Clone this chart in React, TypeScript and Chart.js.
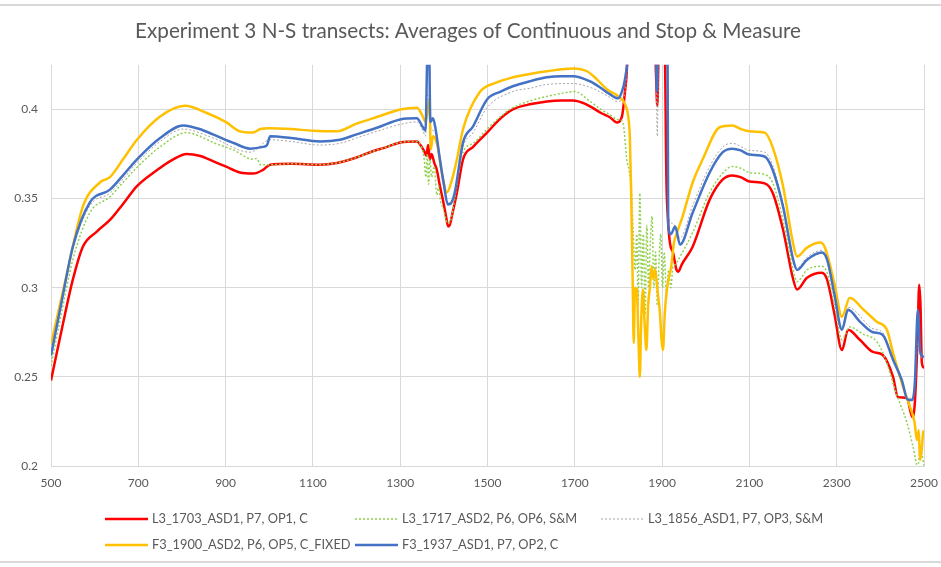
import React, { useEffect, useRef } from "react";
import { Chart, registerables } from "chart.js";

Chart.register(...registerables);

const TITLE = "Experiment 3 N-S transects: Averages of Continuous and Stop & Measure";

const X_MIN = 500;
const X_MAX = 2500;
const X_STEP = 200;
const Y_MIN = 0.2;
const Y_MAX = 0.425;
const Y_STEP = 0.05;

const LABELS = [
  "L3_1703_ASD1, P7, OP1, C",
  "L3_1717_ASD2, P6, OP6, S&M",
  "L3_1856_ASD1, P7, OP3, S&M",
  "F3_1900_ASD2, P6, OP5, C_FIXED",
  "F3_1937_ASD1, P7, OP2, C",
];

// L3_1703 (red)
const redWl = [
  500, 525, 550, 573, 605, 635, 665, 697, 743, 780,
  811, 840, 871, 900, 933, 963, 985, 1002, 1050, 1116,
  1155, 1200, 1231, 1270, 1300, 1338, 1350, 1356, 1360, 1364,
  1368, 1372, 1378, 1384, 1391, 1398, 1405, 1410, 1414, 1420,
  1430, 1444, 1467, 1499, 1530, 1558, 1600, 1636, 1670, 1696,
  1720, 1735, 1760, 1781, 1796, 1808, 1815, 1819, 1822, 1830,
  1880, 1886, 1889, 1892, 1905, 1910, 1913, 1918, 1925, 1933,
  1937, 1945, 1970, 2009, 2039, 2061, 2080, 2100, 2135, 2153,
  2177, 2200, 2209, 2232, 2266, 2278, 2295, 2312, 2326, 2353,
  2383, 2405, 2429, 2440, 2461, 2473, 2479, 2485, 2489, 2492,
  2495, 2500,
];
const redVals = [
  0.248, 0.277, 0.3045, 0.323, 0.3315, 0.338, 0.347, 0.357, 0.366, 0.372,
  0.375, 0.374, 0.371, 0.368, 0.3646, 0.364, 0.366, 0.369, 0.3695, 0.369,
  0.37, 0.373, 0.376, 0.379, 0.3815, 0.382, 0.3787, 0.376, 0.374, 0.38,
  0.372, 0.375, 0.37, 0.366, 0.357, 0.349, 0.34, 0.3343, 0.3354, 0.342,
  0.3534, 0.372, 0.379, 0.387, 0.395, 0.4, 0.403, 0.4045, 0.405, 0.405,
  0.4035, 0.4017, 0.398, 0.3955, 0.3927, 0.396, 0.41, 0.4208, 0.44, 0.46,
  0.46, 0.42, 0.402, 0.43, 0.45, 0.359, 0.34, 0.325, 0.3197, 0.31,
  0.309, 0.313, 0.323, 0.3494, 0.3607, 0.363, 0.362, 0.3596, 0.3585, 0.3534,
  0.3326, 0.305, 0.299, 0.3056, 0.3084, 0.3045, 0.285, 0.265, 0.2764, 0.2708,
  0.264, 0.2624, 0.25, 0.2388, 0.238, 0.2275, 0.2354, 0.27, 0.3017, 0.29,
  0.258, 0.255,
];

// L3_1717 (green dotted)
const greenWl = [
  500, 525, 550, 589, 635, 665, 697, 750, 811, 840,
  871, 920, 963, 971, 980, 1002, 1050, 1116, 1155, 1200,
  1231, 1270, 1300, 1338, 1350, 1355, 1359, 1362, 1365, 1368,
  1372, 1378, 1384, 1388, 1392, 1398, 1405, 1410, 1416, 1425,
  1444, 1467, 1499, 1530, 1558, 1600, 1636, 1670, 1700, 1735,
  1760, 1781, 1796, 1805, 1812, 1819, 1825, 1830, 1834, 1838,
  1842, 1845, 1849, 1853, 1857, 1861, 1865, 1869, 1873, 1877,
  1881, 1885, 1889, 1893, 1897, 1901, 1905, 1910, 1915, 1920,
  1925, 1930, 1937, 1970, 2009, 2047, 2061, 2080, 2100, 2135,
  2153, 2177, 2200, 2209, 2232, 2266, 2278, 2295, 2312, 2330,
  2360, 2392, 2412, 2436, 2461, 2475, 2486, 2491, 2495, 2500,
];
const greenVals = [
  0.256, 0.287, 0.3157, 0.342, 0.351, 0.359, 0.3675, 0.379, 0.387, 0.385,
  0.3815, 0.377, 0.372, 0.3725, 0.369, 0.369, 0.3695, 0.369, 0.37, 0.373,
  0.376, 0.379, 0.3815, 0.382, 0.378, 0.372, 0.362, 0.375, 0.358, 0.372,
  0.362, 0.368, 0.352, 0.357, 0.349, 0.345, 0.338, 0.336, 0.338, 0.35,
  0.376, 0.381, 0.389, 0.396, 0.401, 0.405, 0.4073, 0.409, 0.41, 0.4045,
  0.4, 0.397, 0.3944, 0.394, 0.3905, 0.372, 0.365, 0.353, 0.33, 0.31,
  0.33, 0.29, 0.353, 0.3, 0.33, 0.285, 0.335, 0.3, 0.325, 0.34,
  0.3, 0.32, 0.29, 0.315, 0.33, 0.3, 0.32, 0.295, 0.31, 0.3,
  0.312, 0.313, 0.3157, 0.331, 0.3534, 0.3663, 0.368, 0.367, 0.3646, 0.3635,
  0.359, 0.338, 0.31, 0.3034, 0.31, 0.312, 0.3084, 0.29, 0.2708, 0.278,
  0.274, 0.2697, 0.2596, 0.241, 0.2242, 0.2107, 0.1994, 0.21, 0.207, 0.2,
];

// L3_1856 (grey dotted)
const greyWl = [
  500, 550, 589, 635, 697, 750, 803, 871, 956, 1002,
  1050, 1116, 1162, 1200, 1250, 1300, 1338, 1352, 1358, 1362,
  1366, 1370, 1380, 1391, 1400, 1409, 1415, 1425, 1444, 1467,
  1499, 1558, 1600, 1636, 1696, 1735, 1781, 1796, 1808, 1815,
  1822, 1830, 1884, 1889, 1892, 1912, 1915, 1925, 1935, 1941,
  1970, 2009, 2039, 2061, 2100, 2135, 2153, 2177, 2209, 2232,
  2266, 2278, 2312, 2326, 2383, 2405, 2429, 2449, 2463, 2473,
  2479, 2486, 2491, 2500,
];
const greyVals = [
  0.26, 0.321, 0.346, 0.353, 0.37, 0.382, 0.389, 0.384, 0.376, 0.383,
  0.382, 0.38, 0.381, 0.384, 0.388, 0.3916, 0.393, 0.388, 0.385, 0.41,
  0.4, 0.39, 0.387, 0.37, 0.357, 0.3475, 0.348, 0.353, 0.379, 0.387,
  0.401, 0.41, 0.412, 0.414, 0.4145, 0.4124, 0.4067, 0.4045, 0.405, 0.41,
  0.43, 0.46, 0.46, 0.385, 0.43, 0.46, 0.34, 0.336, 0.33, 0.328,
  0.346, 0.368, 0.379, 0.381, 0.377, 0.376, 0.369, 0.347, 0.311, 0.317,
  0.321, 0.317, 0.278, 0.289, 0.277, 0.275, 0.26, 0.248, 0.238, 0.238,
  0.245, 0.27, 0.262, 0.26,
];

// F3_1900 (yellow)
const yellowWl = [
  500, 537, 573, 612, 635, 665, 697, 750, 807, 857,
  900, 933, 963, 979, 1000, 1050, 1100, 1155, 1200, 1250,
  1300, 1338, 1350, 1358, 1363, 1367, 1370, 1375, 1385, 1395,
  1407, 1418, 1430, 1444, 1482, 1520, 1558, 1600, 1636, 1696,
  1728, 1750, 1774, 1803, 1815, 1823, 1826, 1829, 1831, 1833,
  1835, 1838, 1842, 1846, 1849, 1852, 1856, 1860, 1864, 1868,
  1872, 1876, 1880, 1884, 1887, 1891, 1895, 1899, 1902, 1906,
  1910, 1915, 1921, 1927, 1933, 1947, 1970, 1993, 2032, 2061,
  2080, 2100, 2135, 2153, 2177, 2200, 2209, 2232, 2262, 2273,
  2295, 2312, 2330, 2360, 2392, 2415, 2429, 2452, 2468, 2478,
  2484, 2488, 2491, 2495, 2498, 2500,
];
const yellowVals = [
  0.268, 0.3085, 0.3455, 0.359, 0.362, 0.372, 0.383, 0.396, 0.402, 0.398,
  0.393, 0.3877, 0.387, 0.389, 0.3895, 0.389, 0.388, 0.3877, 0.392, 0.396,
  0.4, 0.401, 0.397, 0.393, 0.4, 0.4056, 0.3775, 0.385, 0.38, 0.365,
  0.3534, 0.36, 0.372, 0.389, 0.4096, 0.415, 0.418, 0.42, 0.4214, 0.423,
  0.4214, 0.417, 0.4112, 0.4067, 0.403, 0.395, 0.385, 0.355, 0.327, 0.297,
  0.269, 0.3, 0.299, 0.27, 0.25, 0.28, 0.299, 0.28, 0.265, 0.29,
  0.3, 0.312, 0.305, 0.31, 0.3045, 0.295, 0.286, 0.27, 0.265, 0.285,
  0.297, 0.305, 0.312, 0.325, 0.33, 0.34, 0.359, 0.372, 0.39, 0.391,
  0.389, 0.3877, 0.387, 0.379, 0.357, 0.325, 0.3175, 0.3225, 0.3253, 0.3225,
  0.302, 0.2837, 0.2944, 0.288, 0.2809, 0.2764, 0.2635, 0.2444, 0.233, 0.225,
  0.2146, 0.22, 0.2034, 0.21, 0.2185, 0.22,
];

// F3_1937 (blue)
const blueWl = [
  500, 525, 550, 589, 635, 665, 697, 750, 803, 840,
  871, 920, 956, 986, 995, 1002, 1050, 1116, 1162, 1200,
  1250, 1300, 1338, 1352, 1358, 1362, 1366, 1369, 1375, 1380,
  1391, 1400, 1409, 1415, 1425, 1444, 1467, 1499, 1530, 1558,
  1600, 1636, 1670, 1696, 1735, 1760, 1781, 1799, 1808, 1815,
  1822, 1830, 1884, 1888, 1891, 1912, 1914, 1920, 1930, 1941,
  1970, 2009, 2039, 2061, 2080, 2100, 2135, 2153, 2177, 2200,
  2209, 2232, 2266, 2278, 2295, 2312, 2326, 2353, 2383, 2405,
  2429, 2449, 2463, 2473, 2479, 2486, 2491, 2495, 2500,
];
const blueVals = [
  0.262, 0.293, 0.323, 0.3478, 0.355, 0.363, 0.372, 0.384, 0.391, 0.389,
  0.386, 0.381, 0.378, 0.379, 0.38, 0.385, 0.384, 0.382, 0.383, 0.386,
  0.39, 0.3944, 0.395, 0.39, 0.388, 0.43, 0.44, 0.393, 0.395, 0.3905,
  0.372, 0.358, 0.3467, 0.347, 0.3534, 0.3815, 0.3905, 0.4056, 0.41, 0.413,
  0.416, 0.418, 0.4186, 0.4186, 0.4157, 0.412, 0.4084, 0.4062, 0.41, 0.417,
  0.43, 0.46, 0.46, 0.41, 0.44, 0.46, 0.335, 0.33, 0.3343, 0.3242,
  0.342, 0.3646, 0.376, 0.378, 0.377, 0.3747, 0.3736, 0.3663, 0.3455, 0.316,
  0.31, 0.3157, 0.3197, 0.3157, 0.296, 0.2764, 0.2876, 0.281, 0.275, 0.2736,
  0.2596, 0.2483, 0.2371, 0.237, 0.2466, 0.2876, 0.265, 0.262, 0.261,
];

const toPoints = (xs: number[], ys: number[]) => xs.map((x, i) => ({ x, y: ys[i] }));

const FONT = "Lato";
const TEXT_COLOR = "#595959";
const GRID_COLOR = "#d9d9d9";

const frame = {
  id: "frame",
  beforeDraw(chart: any) {
    const { ctx, width, height } = chart;
    ctx.save();
    ctx.fillStyle = "#ffffff";
    ctx.fillRect(0, 0, width, height);
    ctx.strokeStyle = GRID_COLOR;
    ctx.lineWidth = 2;
    ctx.beginPath();
    ctx.moveTo(0, 5);
    ctx.lineTo(width, 5);
    ctx.moveTo(0, height - 5);
    ctx.lineTo(width, height - 5);
    ctx.stroke();
    ctx.restore();
  },
};

const gridLegend = {
  id: "gridLegend",
  afterDraw(chart: any) {
    const { ctx } = chart;
    const cols = [105, 355, 601];
    const rows = [519, 545];
    ctx.save();
    ctx.font = `12.8px ${FONT}`;
    ctx.textBaseline = "middle";
    ctx.textAlign = "left";
    chart.data.datasets.forEach((ds: any, i: number) => {
      const x = cols[i % 3];
      const y = rows[Math.floor(i / 3)];
      ctx.strokeStyle = ds.borderColor;
      ctx.lineWidth = ds.borderWidth;
      ctx.setLineDash(ds.borderDash || []);
      ctx.beginPath();
      ctx.moveTo(x, y);
      ctx.lineTo(x + 43, y);
      ctx.stroke();
      ctx.setLineDash([]);
      ctx.fillStyle = TEXT_COLOR;
      ctx.fillText(ds.label, x + 47, y);
    });
    ctx.restore();
  },
};

export default function App() {
  const ref = useRef<HTMLCanvasElement | null>(null);

  useEffect(() => {
    if (!ref.current) return;
    const chart = new Chart(ref.current, {
      type: "line",
      data: {
        datasets: [
          {
            label: LABELS[0],
            data: toPoints(redWl, redVals),
            borderColor: "#ff0000",
            borderWidth: 2.5,
            order: 4,
          },
          {
            label: LABELS[1],
            data: toPoints(greenWl, greenVals),
            borderColor: "#92d050",
            borderWidth: 1.5,
            borderDash: [2, 2],
            order: 3,
          },
          {
            label: LABELS[2],
            data: toPoints(greyWl, greyVals),
            borderColor: "#a5a5a5",
            borderWidth: 1,
            borderDash: [2, 2],
            order: 2,
          },
          {
            label: LABELS[3],
            data: toPoints(yellowWl, yellowVals),
            borderColor: "#ffc000",
            borderWidth: 2.5,
            order: 1,
          },
          {
            label: LABELS[4],
            data: toPoints(blueWl, blueVals),
            borderColor: "#4472c4",
            borderWidth: 2.5,
            order: 0,
          },
        ] as any,
      },
      options: {
        responsive: false,
        animation: false,
        devicePixelRatio: 1,
        elements: {
          point: { radius: 0, hoverRadius: 0 },
          line: { tension: 0, cubicInterpolationMode: "monotone", fill: false, borderJoinStyle: "round" },
        },
        datasets: { line: { clip: 0 } as any },
        layout: { padding: { left: 12, right: 17, top: 0, bottom: 66 } },
        plugins: {
          legend: { display: false },
          tooltip: { enabled: false },
          title: {
            display: true,
            text: TITLE,
            color: TEXT_COLOR,
            font: { family: FONT, size: 20.7, weight: "normal", lineHeight: 1.2 },
            padding: { top: 19, bottom: 21 },
          },
        },
        scales: {
          x: {
            type: "linear",
            min: X_MIN,
            max: X_MAX,
            grid: { color: GRID_COLOR, drawTicks: false },
            border: { color: GRID_COLOR },
            ticks: {
              stepSize: X_STEP,
              color: TEXT_COLOR,
              font: { family: FONT, size: 12 },
              padding: 10,
              maxRotation: 0,
              callback: (v: any) => String(v),
            },
            afterFit: (scale: any) => {
              scale.height = 35;
              scale.paddingLeft = 0;
              scale.paddingRight = 0;
            },
          },
          y: {
            type: "linear",
            min: Y_MIN,
            max: Y_MAX,
            grid: { color: GRID_COLOR, drawTicks: false },
            border: { display: false },
            ticks: {
              stepSize: Y_STEP,
              color: TEXT_COLOR,
              font: { family: FONT, size: 12 },
              padding: 13,
              callback: (v: any) => String(Number(Number(v).toFixed(3))),
            },
            afterBuildTicks: (axis: any) => {
              axis.ticks = axis.ticks.filter(
                (t: any) => Math.abs(t.value / Y_STEP - Math.round(t.value / Y_STEP)) < 1e-6
              );
            },
            afterFit: (scale: any) => {
              scale.width = 39;
            },
          },
        },
      } as any,
      plugins: [frame, gridLegend],
    });
    return () => chart.destroy();
  }, []);

  return (
    <div style={{ position: "absolute", left: 0, top: 0, width: 941, height: 567, background: "#fff" }}>
      <canvas ref={ref} width={941} height={567} />
    </div>
  );
}
